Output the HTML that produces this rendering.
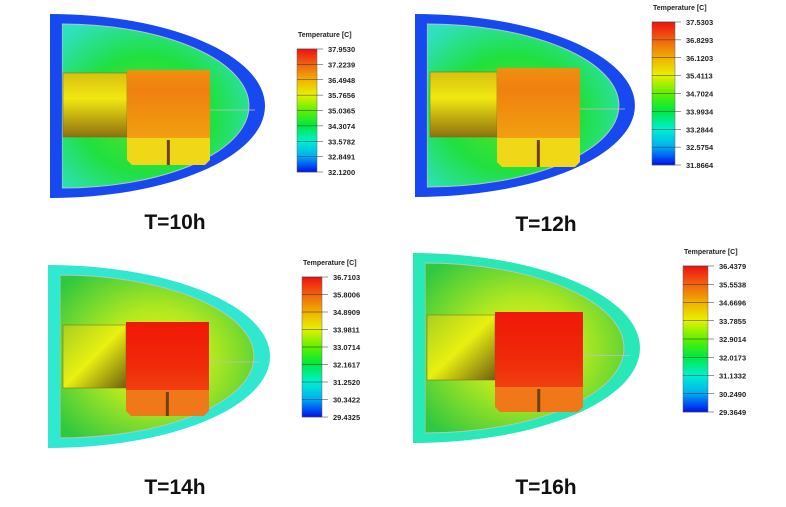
<!DOCTYPE html>
<html><head><meta charset="utf-8">
<style>
html,body{margin:0;padding:0;background:#fff;width:786px;height:507px;overflow:hidden}
svg{display:block}
.lbl{font-family:"Liberation Sans",sans-serif;font-size:7.5px;font-weight:bold;fill:#222}
.ttl{font-family:"Liberation Sans",sans-serif;font-size:7px;font-weight:bold;fill:#222}
.cap{font-family:"Liberation Sans",sans-serif;font-size:21px;font-weight:bold;fill:#111}
</style></head>
<body>
<svg id="chart" width="786" height="507" viewBox="0 0 786 507">
<defs>
<linearGradient id="legGrad" x1="0" y1="0" x2="0" y2="1">
<stop offset="0" stop-color="#f01010"/><stop offset="0.12" stop-color="#f06010"/>
<stop offset="0.25" stop-color="#f0b000"/><stop offset="0.37" stop-color="#e8f000"/>
<stop offset="0.5" stop-color="#60f000"/><stop offset="0.62" stop-color="#00e840"/>
<stop offset="0.75" stop-color="#00f0d0"/><stop offset="0.87" stop-color="#00b0f0"/>
<stop offset="1" stop-color="#0010f0"/></linearGradient>
<linearGradient id="leftCold" x1="0" y1="0" x2="0" y2="1"><stop offset="0" stop-color="#d8c010"/><stop offset="0.4" stop-color="#f0e810"/><stop offset="1" stop-color="#907010"/></linearGradient>
<linearGradient id="leftWarm" x1="0" y1="0" x2="1" y2="1"><stop offset="0" stop-color="#a8d020"/><stop offset="0.5" stop-color="#e8f010"/><stop offset="1" stop-color="#706010"/></linearGradient>
<radialGradient id="innerCold" cx="0.45" cy="0.55" r="0.65"><stop offset="0" stop-color="#60e020"/><stop offset="0.55" stop-color="#20e040"/><stop offset="1" stop-color="#30e0c0"/></radialGradient>
<radialGradient id="innerWarm" cx="0.5" cy="0.5" r="0.65"><stop offset="0" stop-color="#f0f010"/><stop offset="0.45" stop-color="#b0e820"/><stop offset="1" stop-color="#30c840"/></radialGradient>
<linearGradient id="orangeBlk" x1="0" y1="0" x2="0" y2="1"><stop offset="0" stop-color="#f09010"/><stop offset="0.3" stop-color="#f08010"/><stop offset="1" stop-color="#f0a010"/></linearGradient>
<linearGradient id="redBlk" x1="0" y1="0" x2="0" y2="1"><stop offset="0" stop-color="#f01808"/><stop offset="0.6" stop-color="#f02808"/><stop offset="1" stop-color="#f04010"/></linearGradient>
</defs>
</svg>
<script>
const captions = ["T=10h","T=12h","T=14h","T=16h"];
const legendValues10 = ["37.9530","37.2239","36.4948","35.7656","35.0365","34.3074","33.5782","32.8491","32.1200"];
const legendValues12 = ["37.5303","36.8293","36.1203","35.4113","34.7024","33.9934","33.2844","32.5754","31.8664"];
const legendValues14 = ["36.7103","35.8006","34.8909","33.9811","33.0714","32.1617","31.2520","30.3422","29.4325"];
const legendValues16 = ["36.4379","35.5538","34.6696","33.7855","32.9014","32.0173","31.1332","30.2490","29.3649"];
const allLegends=[legendValues10,legendValues12,legendValues14,legendValues16];
const layouts=[
 {sx:50,sy:14,sw:215,sh:184,lx:63,ly:73,lw:64,lh:64,bx:127,by:70,bw:83,bh:68,bb:27,legX:297,legY:49,legW:20,legH:123,capX:175,capY:229,outer:"#1848f0",inner:"innerCold",blk:"orangeBlk",bot:"#f0d818",left:"leftCold"},
 {sx:415,sy:14,sw:220,sh:183,lx:430,ly:72,lw:67,lh:65,bx:497,by:68,bw:83,bh:70,bb:29,legX:652,legY:22,legW:23,legH:143,capX:546,capY:231,outer:"#1848f0",inner:"innerCold",blk:"orangeBlk",bot:"#f0d818",left:"leftCold"},
 {sx:48,sy:265,sw:222,sh:183,lx:63,ly:325,lw:63,lh:63,bx:126,by:322,bw:83,bh:68,bb:26,legX:302,legY:277,legW:20,legH:140,capX:175,capY:494,outer:"#30e8d0",inner:"innerWarm",blk:"redBlk",bot:"#f07818",left:"leftWarm"},
 {sx:413,sy:253,sw:227,sh:190,lx:427,ly:315,lw:68,lh:65,bx:495,by:312,bw:88,bh:75,bb:25,legX:683,legY:266,legW:25,legH:146,capX:546,capY:494,outer:"#28e8b8",inner:"innerWarm",blk:"redBlk",bot:"#f07818",left:"leftWarm"}
];
const svg=document.getElementById('chart');
const NS="http://www.w3.org/2000/svg";
function mk(tag,attrs,parent){const e=document.createElementNS(NS,tag);for(const k in attrs)e.setAttribute(k,attrs[k]);(parent||svg).appendChild(e);return e;}
function shape(x,y,w,h){return `M${x},${y} A${w},${h/2} 0 0 1 ${x},${y+h} Z`;}
layouts.forEach((L,i)=>{
 const g=mk('g',{});
 
 
 const o=mk('path',{d:shape(L.sx,L.sy,L.sw,L.sh),fill:L.outer},g);
 
 
 const inn=mk('path',{d:shape(L.sx+12,L.sy+10,L.sw-28,L.sh-20),fill:'url(#'+L.inner+')',stroke:'#b0c8c0','stroke-width':1},g);
 
 
 mk('rect',{x:L.sx,y:L.sy+4,width:12,height:L.sh-8,fill:L.outer,opacity:0.8},g);
 const lb=mk('rect',{x:L.lx,y:L.ly,width:L.lw,height:L.lh,fill:'url(#'+L.left+')',stroke:'#806020','stroke-width':0.5},g);
 
 
 const hb=mk('rect',{x:L.bx,y:L.by,width:L.bw,height:L.bh,fill:'url(#'+L.blk+')'},g);
 
 
 const bt=mk('path',{d:`M${L.bx},${L.by+L.bh} h${L.bw} v${L.bb-5} l-5,5 h${-(L.bw-10)} l-5,-5 Z`,fill:L.bot},g);
 
 
 mk('rect',{x:L.bx+L.bw*0.48,y:L.by+L.bh+2,width:3,height:L.bb-2,fill:'#704010'},g);
 mk('line',{x1:L.bx+L.bw,y1:L.by+L.bh/2+6,x2:L.sx+L.sw-10,y2:L.by+L.bh/2+6,stroke:'#c0c0c0','stroke-width':0.7},g);
 const t=mk('text',{x:L.legX+1,y:L.legY-12,class:'ttl'},g);t.textContent='Temperature [C]';
 
 
 const bar=mk('rect',{x:L.legX,y:L.legY,width:L.legW,height:L.legH,fill:'url(#legGrad)',stroke:'#666','stroke-width':0.5},g);
 
 
 const vals=allLegends[i];
 vals.forEach((v,k)=>{
  const yy=L.legY+L.legH*k/(vals.length-1);
  mk('line',{x1:L.legX,x2:L.legX+L.legW+6,y1:yy,y2:yy,stroke:'#333','stroke-width':0.6},g);
  const tx=mk('text',{x:L.legX+L.legW+11,y:yy+3,class:'lbl'},g);tx.textContent=v;
  
  
 });
 const c=mk('text',{x:L.capX,y:L.capY,'text-anchor':'middle',class:'cap'},g);c.textContent=captions[i];
 
 
});
</script>
</body></html>
